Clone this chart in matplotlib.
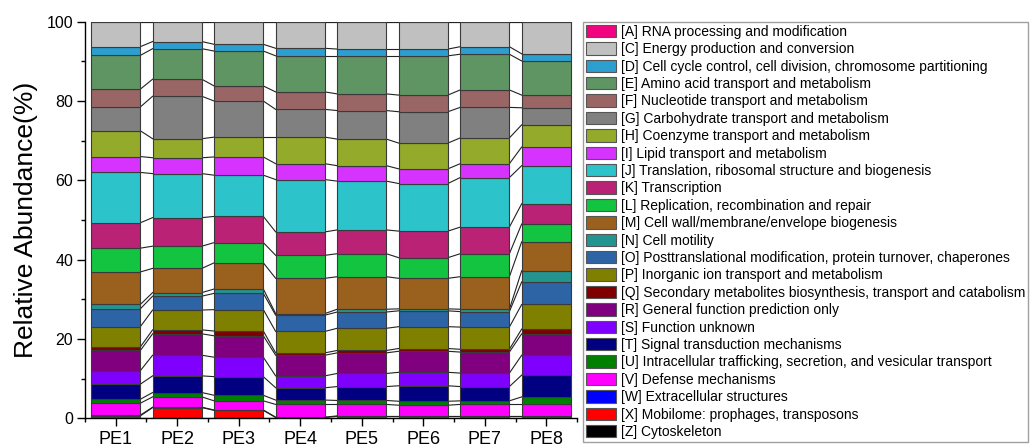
import numpy as np
import matplotlib.pyplot as plt
from matplotlib.patches import Patch

plt.rcParams['font.family'] = ['Liberation Sans', 'DejaVu Sans']

samples = ['PE1', 'PE2', 'PE3', 'PE4', 'PE5', 'PE6', 'PE7', 'PE8']

labels = [
    '[A] RNA processing and modification',
    '[C] Energy production and conversion',
    '[D] Cell cycle control, cell division, chromosome partitioning',
    '[E] Amino acid transport and metabolism',
    '[F] Nucleotide transport and metabolism',
    '[G] Carbohydrate transport and metabolism',
    '[H] Coenzyme transport and metabolism',
    '[I] Lipid transport and metabolism',
    '[J] Translation, ribosomal structure and biogenesis',
    '[K] Transcription',
    '[L] Replication, recombination and repair',
    '[M] Cell wall/membrane/envelope biogenesis',
    '[N] Cell motility',
    '[O] Posttranslational modification, protein turnover, chaperones',
    '[P] Inorganic ion transport and metabolism',
    '[Q] Secondary metabolites biosynthesis, transport and catabolism',
    '[R] General function prediction only',
    '[S] Function unknown',
    '[T] Signal transduction mechanisms',
    '[U] Intracellular trafficking, secretion, and vesicular transport',
    '[V] Defense mechanisms',
    '[W] Extracellular structures',
    '[X] Mobilome: prophages, transposons',
    '[Z] Cytoskeleton',
]

colors = ['#F0047F', '#C0C0C0', '#2C9FD0', '#5F9563', '#996565', '#808080',
          '#94AA2A', '#D633FF', '#2CC3CA', '#B92275', '#13C440', '#9A601E',
          '#239490', '#2D64A6', '#808000', '#800000', '#800080', '#8000FF',
          '#000080', '#008000', '#FF00FF', '#0000FF', '#FF0000', '#000000']

# values in legend order A, C, D, ... Z (percent)
pe1 = [0, 6.3, 2.2, 8.5, 4.5, 6.0, 6.5, 4.0, 12.7, 6.4, 6.0, 8.2, 1.1, 4.5, 5.1, 0.9, 5.1, 3.4, 3.8, 1.0, 3.0, 0.2, 0.6, 0]
pe2 = [0, 5.0, 1.8, 7.7, 4.3, 10.7, 4.8, 4.0, 11.1, 7.2, 5.6, 6.1, 0.9, 3.5, 5.0, 1.0, 5.4, 5.2, 4.2, 1.1, 2.6, 0.1, 2.7, 0]
pe3 = [0, 5.7, 1.7, 8.8, 3.8, 9.1, 5.0, 4.6, 10.4, 6.6, 5.1, 6.6, 1.1, 4.1, 5.4, 1.2, 5.4, 4.9, 4.7, 1.4, 2.3, 0.1, 2.0, 0]
pe4 = [0, 6.7, 1.9, 9.1, 4.4, 7.0, 6.7, 4.0, 13.2, 5.9, 5.8, 8.9, 0.4, 4.1, 5.4, 0.6, 5.2, 3.0, 3.1, 1.1, 3.2, 0.1, 0.2, 0]
pe5 = [0, 6.9, 1.7, 9.6, 4.2, 7.2, 6.7, 3.9, 12.3, 6.0, 5.8, 8.2, 0.7, 4.1, 5.6, 0.6, 5.2, 3.3, 3.5, 1.0, 2.9, 0.1, 0.5, 0]
pe6 = [0, 6.9, 1.7, 9.9, 4.2, 7.9, 6.5, 3.7, 12.0, 6.7, 5.2, 7.7, 0.5, 4.0, 5.5, 0.7, 5.3, 3.4, 3.9, 1.0, 2.7, 0.1, 0.5, 0]
pe7 = [0, 6.3, 1.9, 9.0, 4.4, 7.7, 6.5, 3.5, 12.5, 6.7, 5.8, 8.2, 0.6, 3.9, 5.6, 0.7, 5.3, 3.4, 3.6, 0.9, 2.9, 0.1, 0.5, 0]
pe8 = [0, 8.1, 1.8, 8.6, 3.2, 4.3, 5.6, 4.7, 9.6, 5.1, 4.5, 7.3, 2.8, 5.7, 6.2, 1.2, 5.4, 5.0, 5.5, 1.9, 2.9, 0.1, 0.5, 0]

data = np.array([pe1, pe2, pe3, pe4, pe5, pe6, pe7, pe8]).T  # (category, sample)

x = np.arange(1, len(samples) + 1)
w = 0.8

fig = plt.figure(figsize=(10.31, 4.45), dpi=100)
ax = fig.add_axes([0.0824, 0.060, 0.4773, 0.8912])

# stack from the bottom: last legend entry first
order = list(range(len(labels)))[::-1]
bottom = np.zeros(len(samples))
levels = [bottom.copy()]
for k in order:
    ax.bar(x, data[k], w, bottom=bottom, color=colors[k],
           edgecolor='#3a3a3a', linewidth=0.8, zorder=2)
    bottom = bottom + data[k]
    levels.append(bottom.copy())

# connecting lines between adjacent bars
for lv in levels:
    for i in range(len(samples) - 1):
        ax.plot([x[i] + w / 2, x[i + 1] - w / 2], [lv[i], lv[i + 1]],
                color='#222222', linewidth=0.8, zorder=1)

ax.set_xlim(0.5, 8.5)
ax.set_ylim(0, 100)
ax.set_xticks(x)
ax.set_xticklabels(samples)
ax.set_xticks(np.arange(0.5, 9, 1), minor=True)
ax.set_yticks([0, 20, 40, 60, 80, 100])
ax.set_yticks(np.arange(10, 100, 20), minor=True)
ax.tick_params(axis='both', which='major', length=5.5, width=1, direction='out')
ax.tick_params(axis='both', which='minor', length=3, width=1, direction='out')
ax.tick_params(axis='y', labelsize=11.5, pad=3)
ax.tick_params(axis='x', labelsize=13, pad=4)
for s in ['top', 'right']:
    ax.spines[s].set_visible(False)
ax.spines['left'].set_linewidth(1)
ax.spines['bottom'].set_linewidth(1)
ax.set_ylabel('Relative Abundance(%)', fontsize=19, labelpad=6)

handles = [Patch(facecolor=c, edgecolor='#555555', linewidth=0.8) for c in colors]
fig.legend(handles, labels, loc='upper left', bbox_to_anchor=(583 / 1031, 1 - 22 / 445),
           bbox_transform=fig.transFigure, fontsize=10, frameon=True, fancybox=False,
           edgecolor='#888888', borderpad=0.2, borderaxespad=0, labelspacing=0.245,
           handlelength=2.2, handleheight=1.0, handletextpad=0.35)

fig.savefig('out.png', dpi=100)
